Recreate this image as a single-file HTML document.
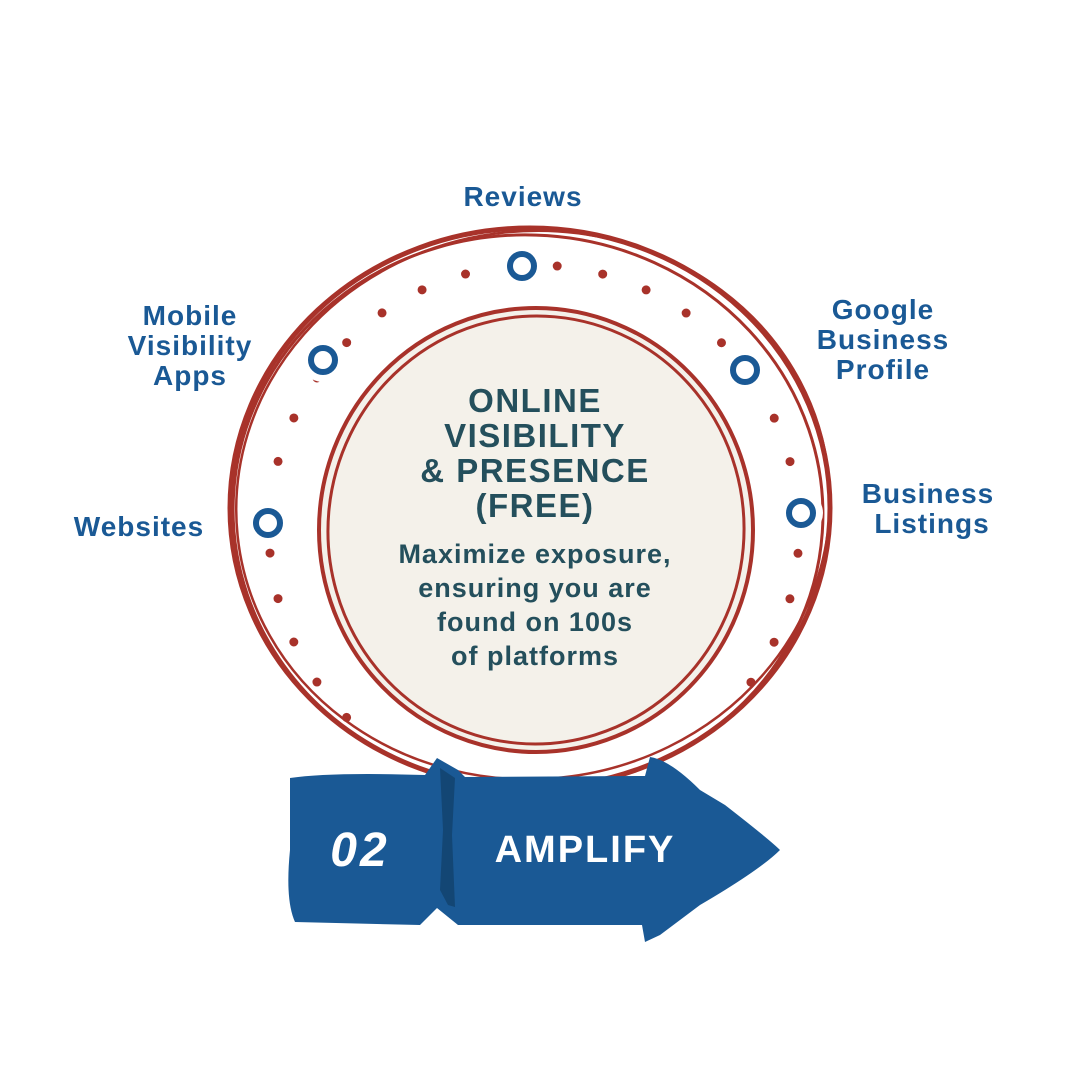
<!DOCTYPE html>
<html><head><style>
body{margin:0;background:#fff;}
svg{display:block;}
text{font-family:"Liberation Sans",sans-serif;font-weight:bold;}
</style></head><body>
<svg width="1080" height="1080" viewBox="0 0 1080 1080" xmlns="http://www.w3.org/2000/svg">
<rect width="1080" height="1080" fill="#fff"/>
<g fill="none" stroke="#a8322a">
<ellipse cx="530" cy="508" rx="300" ry="280" stroke-width="5"/>
<ellipse cx="528" cy="512" rx="295" ry="277" stroke-width="3" transform="rotate(4 528 512)"/>
<ellipse cx="533" cy="505" rx="297" ry="274" stroke-width="2.5" transform="rotate(-6 533 505)"/>
</g>
<ellipse cx="536" cy="530" rx="215" ry="222" fill="#f4f1ea"/>
<g fill="none" stroke="#a8322a">
<ellipse cx="536" cy="530" rx="217" ry="222" stroke-width="4"/>
<ellipse cx="536" cy="530" rx="208" ry="214" stroke-width="3" transform="rotate(5 536 530)"/>
</g>
<path d="M346.6 717.4 A265 265 0 1 1 721.4 717.4" fill="none" stroke="#a8322a" stroke-width="9" stroke-linecap="round" stroke-dasharray="0 46.25"/>
<g fill="#fff">
<circle cx="522" cy="266" r="22"/>
<circle cx="745" cy="370" r="22"/>
<circle cx="801" cy="513" r="22"/>
<circle cx="268" cy="523" r="22"/>
<circle cx="323" cy="360" r="22"/>
</g>
<g fill="#fff" stroke="#1a5995" stroke-width="6">
<circle cx="522" cy="266" r="12"/>
<circle cx="745" cy="370" r="12"/>
<circle cx="801" cy="513" r="12"/>
<circle cx="268" cy="523" r="12"/>
<circle cx="323" cy="360" r="12"/>
</g>
<path d="M290 778 Q330 772 425 775 L437 758 L458 770 L465 777 L645 776 L650 757 Q670 760 700 790 L725 805 Q770 840 780 850 Q760 870 700 905 L660 935 L645 942 L642 925 L458 925 L437 908 L420 925 L295 922 Q285 900 290 850 Z" fill="#1a5995"/>
<path d="M440 768 L455 778 L452 835 L455 907 L448 905 L440 890 L443 830 Z" fill="#134674"/>
<text x="360" y="866" fill="#fff" font-size="48" font-style="italic" font-weight="normal" text-anchor="middle" letter-spacing="3">02</text>
<text x="585" y="862" fill="#fff" font-size="38" text-anchor="middle" letter-spacing="2">AMPLIFY</text>
<g fill="#244f5c" text-anchor="middle" font-size="33" letter-spacing="1.5">
<text x="535" y="412">ONLINE</text>
<text x="535" y="447">VISIBILITY</text>
<text x="535" y="482">&amp; PRESENCE</text>
<text x="535" y="517">(FREE)</text>
</g>
<g fill="#244f5c" text-anchor="middle" font-size="27" letter-spacing="1">
<text x="535" y="563">Maximize exposure,</text>
<text x="535" y="597">ensuring you are</text>
<text x="535" y="631">found on 100s</text>
<text x="535" y="665">of platforms</text>
</g>
<g fill="#1a5995" font-size="28" letter-spacing="1" text-anchor="middle">
<text x="523" y="206">Reviews</text>
<text x="883" y="319">Google</text>
<text x="883" y="349">Business</text>
<text x="883" y="379">Profile</text>
<text x="928" y="503">Business</text>
<text x="932" y="533">Listings</text>
<text x="139" y="536">Websites</text>
<text x="190" y="325">Mobile</text>
<text x="190" y="355">Visibility</text>
<text x="190" y="385">Apps</text>
</g>
</svg>
</body></html>
